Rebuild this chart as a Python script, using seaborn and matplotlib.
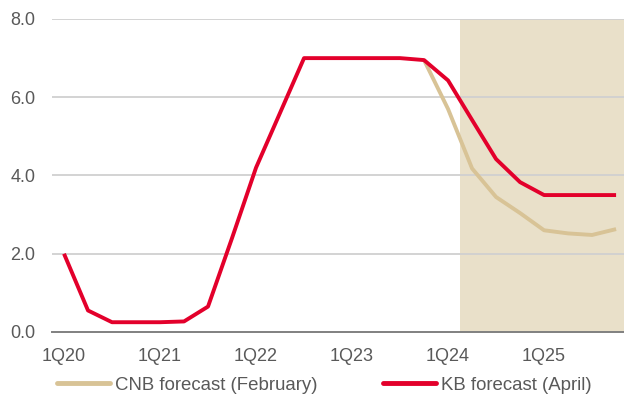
import matplotlib
matplotlib.use("Agg")
import matplotlib.pyplot as plt
import seaborn as sns
import pandas as pd
import numpy as np
from matplotlib.lines import Line2D

quarters = ["1Q20", "2Q20", "3Q20", "4Q20", "1Q21", "2Q21", "3Q21", "4Q21",
            "1Q22", "2Q22", "3Q22", "4Q22", "1Q23", "2Q23", "3Q23", "4Q23",
            "1Q24", "2Q24", "3Q24", "4Q24", "1Q25", "2Q25", "3Q25", "4Q25"]
kb_forecast = [2.0, 0.55, 0.25, 0.25, 0.25, 0.27, 0.65, 2.4,
               4.2, 5.6, 7.0, 7.0, 7.0, 7.0, 7.0, 6.95,
               6.43, 5.42, 4.42, 3.83, 3.5, 3.5, 3.5, 3.5]
cnb_quarters = ["4Q23", "1Q24", "2Q24", "3Q24", "4Q24", "1Q25", "2Q25", "3Q25", "4Q25"]
cnb_forecast = [6.95, 5.7, 4.18, 3.45, 3.04, 2.6, 2.52, 2.48, 2.63]
tick_labels = ["1Q20", "1Q21", "1Q22", "1Q23", "1Q24", "1Q25"]
yticks = [0.0, 2.0, 4.0, 6.0, 8.0]
forecast_start = "2Q24"
series_names = ["CNB forecast (February)", "KB forecast (April)"]

pos = {q: i for i, q in enumerate(quarters)}
df = pd.concat([
    pd.DataFrame({"x": [pos[q] for q in cnb_quarters], "y": cnb_forecast, "series": series_names[0]}),
    pd.DataFrame({"x": [pos[q] for q in quarters], "y": kb_forecast, "series": series_names[1]}),
])

sns.set_theme(style="white")
plt.rcParams["font.family"] = ["Liberation Sans", "DejaVu Sans"]

fig = plt.figure(figsize=(6.24, 3.96), dpi=100)
ax = fig.add_axes([52 / 624, 1 - 332 / 396, 1 - 52 / 624, (332 - 19) / 396])

red = "#E3002B"
tan = "#D8C396"
shade = "#E9E0C9"
txt = "#595959"
fs = 13
lfs = 13.4

ax.axvspan(pos[forecast_start] - 0.5, 24, color=shade, lw=0, zorder=0)
for v in yticks[1:]:
    ax.axhline(v, color="#D0D0D0", lw=1.3, zorder=1)

sns.lineplot(data=df, x="x", y="y", hue="series", hue_order=series_names,
             palette=[tan, red], linewidth=2.8, ax=ax, legend=False, zorder=3,
             sort=False)
for line in ax.lines:
    line.set_solid_capstyle("butt")

ax.set_xlim(-0.5, 23.33)
ax.set_ylim(0, 8)
ax.set_yticks(yticks)
ax.set_yticklabels([f"{v:.1f}" for v in yticks])
major = [pos[t] - 0.5 for t in tick_labels]
ax.set_xticks(major)
ax.set_xticklabels([""] * len(major))
ax.set_xticks([pos[t] for t in tick_labels], minor=True)
ax.set_xticklabels(tick_labels, minor=True)
ax.tick_params(axis="x", which="major", length=4.5, width=1, color="#333333", direction="out")
ax.tick_params(axis="x", which="minor", length=0, pad=11.5, labelsize=fs, labelcolor=txt)
ax.tick_params(axis="y", length=0, pad=12, labelsize=fs, labelcolor=txt)
ax.set_xlabel("")
ax.set_ylabel("")
for s in ["top", "right", "left"]:
    ax.spines[s].set_visible(False)
ax.spines["bottom"].set_color("#808080")
ax.spines["bottom"].set_linewidth(1.4)
ax.spines["bottom"].set_zorder(4)

handles = [Line2D([0], [0], color=tan, lw=3.5), Line2D([0], [0], color=red, lw=3.5)]
fig.legend(handles, series_names, loc="center left", bbox_to_anchor=(57 / 624, 1 - 385 / 396),
           ncol=2, frameon=False, fontsize=lfs, handlelength=2.85, handletextpad=0.27,
           columnspacing=3.5, labelcolor=txt, borderaxespad=0, borderpad=0)

fig.savefig("out.png", dpi=100)
